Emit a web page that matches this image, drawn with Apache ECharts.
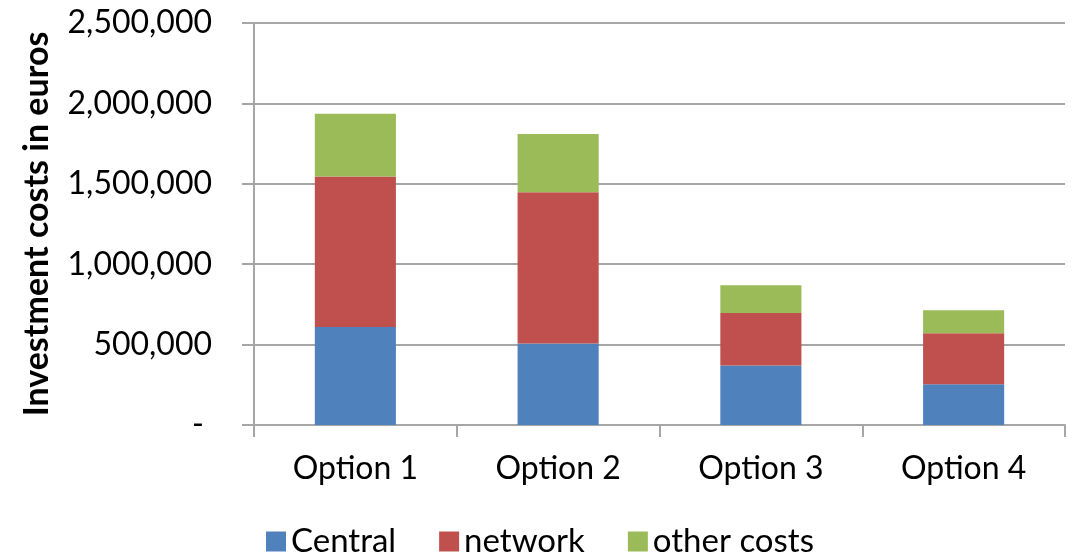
<!DOCTYPE html>
<html>
<head>
<meta charset="utf-8">
<script src="https://cdn.jsdelivr.net/npm/echarts@6/dist/echarts.min.js"></script>
<style>
  html, body { margin: 0; padding: 0; background: #fff; }
  #chart { width: 1080px; height: 556px; }
</style>
</head>
<body>
<div id="chart"></div>
<script>
const categories = ['Option 1', 'Option 2', 'Option 3', 'Option 4'];
const central = [610000, 507000, 370000, 254000];
const network = [935000, 940000, 326000, 316000];
const otherCosts = [390000, 362000, 173000, 143000];
const yTicks = [0, 500000, 1000000, 1500000, 2000000, 2500000];

const FONT = 'Lato';
const GRAY = '#a6a6a6';

const chart = echarts.init(document.getElementById('chart'));

const barSeries = (name, data, color) => ({
  name,
  type: 'bar',
  stack: 'total',
  barWidth: '40%',
  data,
  itemStyle: { color },
});

chart.setOption({
  backgroundColor: '#fff',
  animation: false,
  textStyle: { fontFamily: FONT },
  grid: { left: 254, right: 15, top: 23, bottom: 131 },
  legend: {
    top: 520,
    left: 'center',
    itemWidth: 20,
    itemHeight: 20,
    itemGap: 43,
    icon: 'rect',
    textStyle: { fontFamily: FONT, fontSize: 33, color: '#000' },
    data: ['Central', 'network', 'other costs'],
  },
  xAxis: {
    type: 'category',
    data: categories,
    axisLine: { lineStyle: { color: GRAY, width: 2 } },
    axisTick: { show: true, length: 12, lineStyle: { color: GRAY, width: 2 } },
    axisLabel: { margin: 28, fontFamily: FONT, fontSize: 32, color: '#000' },
  },
  yAxis: {
    type: 'value',
    min: yTicks[0],
    max: yTicks[yTicks.length - 1],
    interval: yTicks[1] - yTicks[0],
    name: 'Investment costs in euros',
    nameLocation: 'middle',
    nameGap: 200,
    nameTextStyle: { fontFamily: FONT, fontSize: 34, fontWeight: 'bold', color: '#000' },
    axisLine: { show: true, lineStyle: { color: GRAY, width: 2 } },
    axisTick: { show: true, length: 12, lineStyle: { color: GRAY, width: 2 } },
    axisLabel: {
      margin: 42,
      fontFamily: FONT,
      fontSize: 32,
      color: '#000',
      formatter: (v) => (v === 0 ? '- ' : v.toLocaleString('en-US')),
    },
    splitLine: { show: true, lineStyle: { color: GRAY, width: 2 } },
  },
  series: [
    barSeries('Central', central, '#4f81bd'),
    barSeries('network', network, '#c0504d'),
    barSeries('other costs', otherCosts, '#9bbb59'),
  ],
});
</script>
</body>
</html>
